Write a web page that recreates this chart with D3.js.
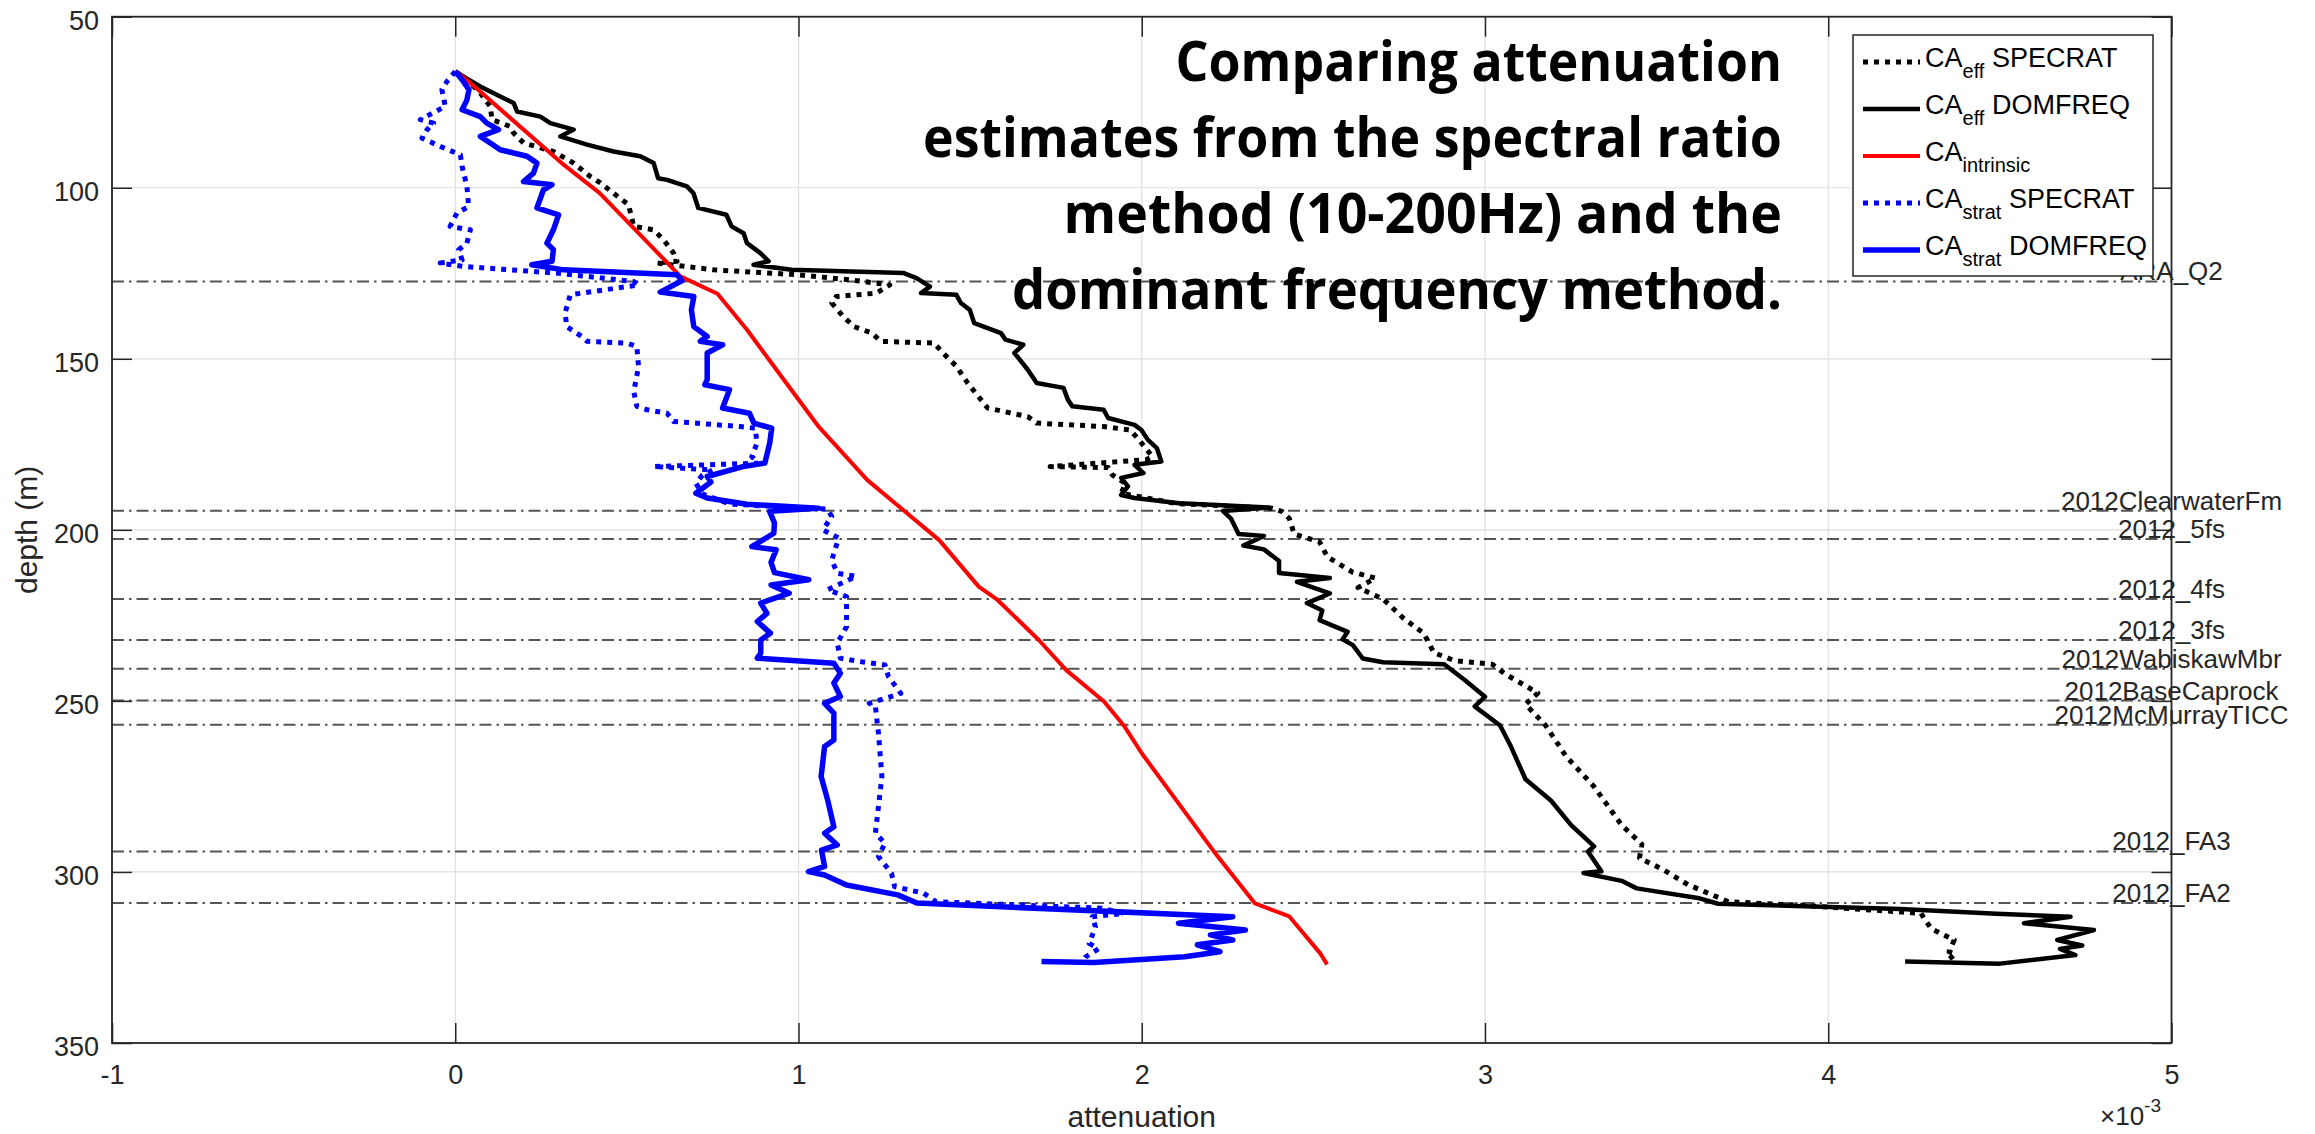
<!DOCTYPE html>
<html>
<head>
<meta charset="utf-8">
<script src="https://cdn.jsdelivr.net/npm/d3@7"></script>
<style>
  html, body { margin: 0; padding: 0; background: #fff; }
  svg { display: block; }
</style>
</head>
<body>
<div id="chart"></div>
<script>
// attenuation is stored in units of 1e-3 (the axis shows x10^-3)
const xTicks = [-1, 0, 1, 2, 3, 4, 5];
const yTicks = [50, 100, 150, 200, 250, 300, 350];

// [attenuation, depth (m)]
const caEffSpecrat = [
  [0.0,66],[0.044,69.4],[0.073,72.3],[0.102,76.2],[0.107,80.1],[0.16,82.1],[0.17,84],[0.199,86.9],
  [0.286,89.4],[0.345,92.8],[0.393,96.7],[0.423,98.6],[0.461,101.6],[0.505,105],[0.52,111.3],
  [0.578,112.3],[0.607,115.2],[0.636,119.1],[0.646,121.5],[0.588,122],[0.753,124],[0.993,125.4],
  [1.149,126.9],[1.266,128.4],[1.227,130.8],[1.11,131.8],[1.097,133.7],[1.13,137.6],[1.162,140.6],
  [1.214,142.5],[1.24,144.9],[1.395,145.4],[1.421,148.3],[1.46,152.2],[1.493,157.1],[1.551,164.4],
  [1.668,166.9],[1.694,168.8],[1.889,169.8],[1.966,170.8],[1.992,173.7],[2.031,178.6],[2.012,179.5],
  [1.733,181.5],[1.902,181.8],[1.914,183.9],[1.953,186.4],[1.94,189.3],[2.1,192.3],[2.381,193.7],
  [2.408,194.6],[2.43,196.7],[2.444,201.2],[2.518,203.5],[2.541,207.9],[2.615,212.4],[2.681,214.1],
  [2.63,216.9],[2.703,220.2],[2.762,225.8],[2.822,230.3],[2.851,235.9],[2.91,238.2],[3.021,239.3],
  [3.058,242.1],[3.154,247.7],[3.118,251],[3.177,257.2],[3.236,266.2],[3.318,275.1],[3.398,286.3],
  [3.457,291.9],[3.45,295.9],[3.517,299.2],[3.591,303.7],[3.709,308.7],[3.946,309.9],[4.27,312.1],
  [4.3,316.6],[4.367,319.9],[4.352,323.3],[4.37,324],[4.345,326.1]
];

const caEffDomfreq = [
  [0.0,66],[0.039,68.4],[0.073,70.4],[0.131,73.3],[0.17,75.2],[0.18,77.7],[0.248,79.2],[0.277,81.1],
  [0.345,83],[0.306,85],[0.384,87.4],[0.461,89.4],[0.539,90.8],[0.578,92.8],[0.591,97.2],[0.617,97.7],
  [0.675,99.6],[0.694,101.6],[0.708,105.9],[0.79,107.9],[0.805,111.3],[0.84,113.3],[0.85,116.2],
  [0.889,119.1],[0.913,121.5],[0.869,122.5],[0.98,124],[1.305,124.9],[1.344,126.4],[1.383,128.9],
  [1.357,130.8],[1.46,131.3],[1.473,133.7],[1.499,135.7],[1.512,139.6],[1.59,142.5],[1.603,144.4],
  [1.655,145.9],[1.629,148.3],[1.668,153.2],[1.694,157.1],[1.772,158.5],[1.785,162],[1.798,163.9],
  [1.889,164.9],[1.902,167.3],[1.979,169.3],[1.999,170.8],[2.018,173.7],[2.044,176.1],[2.057,180],
  [1.979,181],[2.005,183.4],[1.94,184.8],[1.96,187.3],[1.94,189.8],[1.979,190.7],[2.109,192.2],
  [2.37,193.5],[2.237,194.5],[2.26,196.7],[2.282,201.2],[2.356,201.8],[2.296,204.6],[2.356,205.7],
  [2.4,209.1],[2.4,212.6],[2.548,214.1],[2.452,215.2],[2.548,218.6],[2.481,221.4],[2.526,223.6],
  [2.518,226.4],[2.6,229.8],[2.585,232],[2.615,233.7],[2.644,237.6],[2.703,238.7],[2.881,239.3],
  [2.94,243.8],[3.0,248.8],[2.97,251.6],[3.044,257.2],[3.073,262.8],[3.118,272.9],[3.192,279.1],
  [3.251,286.3],[3.318,292.5],[3.3,294],[3.339,299.8],[3.287,300.3],[3.398,302.6],[3.442,304.8],
  [3.62,307.6],[3.679,309.3],[4.21,310.8],[4.49,312.2],[4.706,313.1],[4.57,315],[4.774,317],
  [4.667,319.9],[4.74,321.5],[4.675,322.5],[4.72,324.3],[4.5,326.8],[4.224,326.2]
];

const caIntrinsic = [
  [0.0,66],[0.04,69],[0.31,92.8],[0.42,101.5],[0.515,111.3],[0.656,125.9],[0.764,131],[0.85,141.5],
  [0.96,156.5],[1.06,170],[1.2,185.4],[1.305,194.2],[1.41,203],[1.525,216.6],[1.58,220.5],
  [1.70,232.2],[1.78,241],[1.89,250.2],[1.95,257.5],[2.0,265.3],[2.21,294],[2.33,309.2],
  [2.43,313],[2.52,323.8],[2.54,327]
];

const caStratSpecrat = [
  [0.0,66],[-0.024,68.9],[-0.039,71.3],[-0.029,76.2],[-0.102,80.1],[-0.063,81.1],[-0.082,83],
  [-0.097,85.5],[-0.044,87.9],[0.015,90.4],[0.02,93.8],[0.034,99.6],[0.039,105.5],[0.005,107.4],
  [-0.015,111.3],[0.044,112.3],[0.034,116.2],[0.01,118.1],[0.02,121.1],[-0.044,122],[0.024,123],
  [0.3,125],[0.52,127.4],[0.534,128.4],[0.335,131.3],[0.32,136.6],[0.325,140.6],[0.369,143.5],
  [0.384,144.9],[0.5,145.4],[0.529,146.4],[0.534,152.3],[0.52,159.6],[0.529,163.9],[0.559,164.9],
  [0.617,165.9],[0.636,168.3],[0.83,169.8],[0.874,170.3],[0.879,174.7],[0.864,178.6],[0.884,180.5],
  [0.578,181.5],[0.75,182.5],[0.72,184],[0.701,186.4],[0.72,189.5],[0.8,192.5],[1.084,193.9],
  [1.097,196.1],[1.071,200],[1.117,202.4],[1.097,208.8],[1.113,212.7],[1.168,213.6],[1.085,217.5],
  [1.14,219.5],[1.14,228.3],[1.113,233.1],[1.122,237.5],[1.178,238.5],[1.252,239.5],[1.262,242.9],
  [1.298,247.8],[1.206,250.7],[1.224,251.7],[1.233,259.5],[1.243,272.1],[1.224,288.7],[1.252,291.6],
  [1.233,295.5],[1.271,300.4],[1.28,304.3],[1.364,306.2],[1.401,308.7],[1.884,310.6],[1.949,312.1],
  [1.856,313.1],[1.865,316],[1.847,320.9],[1.874,322.5],[1.837,324.8],[1.83,325.8]
];

const caStratDomfreq = [
  [0.0,66],[0.02,68.4],[0.04,71.3],[0.034,74.3],[0.02,77.2],[0.073,79.2],[0.092,81.1],[0.126,83],
  [0.073,85],[0.102,86.9],[0.131,88.9],[0.209,90.8],[0.238,92.8],[0.228,95.7],[0.199,98.2],
  [0.282,99.1],[0.257,100.6],[0.238,105.9],[0.301,107.9],[0.286,112.3],[0.267,116.2],[0.286,118.1],
  [0.282,121.5],[0.223,122.5],[0.316,124],[0.646,125.4],[0.66,127.2],[0.597,130.5],[0.695,131.8],
  [0.688,135.7],[0.695,140.6],[0.734,143.5],[0.714,144.9],[0.779,145.9],[0.734,148.3],[0.734,156.1],
  [0.727,157.6],[0.799,159],[0.779,164.4],[0.857,165.9],[0.87,168.8],[0.922,170.3],[0.916,174.7],
  [0.902,180.5],[0.838,181.5],[0.734,184.4],[0.745,186],[0.701,189.3],[0.734,190.7],[0.85,192.5],
  [1.058,193.7],[0.916,194.6],[0.93,198],[0.928,201],[0.864,204.9],[0.935,205.8],[0.92,209.5],
  [0.93,212.5],[1.03,214.6],[0.92,216.1],[0.973,218.5],[0.89,221.4],[0.908,224.4],[0.88,226.8],
  [0.918,230.2],[0.89,232.2],[0.89,236],[0.88,237.5],[1.103,239],[1.122,241.9],[1.103,244.8],
  [1.122,248.7],[1.076,250.7],[1.103,253.6],[1.103,261.4],[1.076,263.3],[1.066,272.1],[1.085,279],
  [1.103,286.8],[1.076,288.7],[1.113,292.1],[1.067,293.6],[1.076,298.4],[1.029,299.9],[1.076,300.9],
  [1.14,303.8],[1.289,306.7],[1.345,309.1],[2.265,313.1],[2.107,315],[2.302,317],[2.2,318.4],
  [2.265,319.9],[2.162,321.3],[2.228,323.3],[2.125,324.8],[1.86,326.5],[1.708,326.2]
];

const horizonDepths = [127.4, 194.4, 202.7, 220.2, 232.2, 240.6, 249.9, 257.0, 294.0, 309.1];
const horizonNames = ["ARA_Q2", "2012ClearwaterFm", "2012_5fs", "2012_4fs", "2012_3fs",
  "2012WabiskawMbr", "2012BaseCaprock", "2012McMurrayTICC", "2012_FA3", "2012_FA2"];

const legendSubs = ["eff", "eff", "intrinsic", "strat", "strat"];
const legendMethods = ["SPECRAT", "DOMFREQ", "", "SPECRAT", "DOMFREQ"];

const titleLines = [
  "Comparing attenuation",
  "estimates from the spectral ratio",
  "method (10-200Hz) and the",
  "dominant frequency method."
];

// ---- layout ----
const W = 2315, H = 1134;
const plotL = 112, plotR = 2171.5, plotT = 16.7, plotB = 1043;
const axisColor = "#262626";
const font = "'Liberation Sans', Arial, Helvetica, sans-serif";

const series = [
  { data: caEffSpecrat, color: "#000000", width: 5, dash: "5,6" },
  { data: caEffDomfreq, color: "#000000", width: 4.5, dash: null },
  { data: caIntrinsic, color: "#ff0000", width: 4, dash: null },
  { data: caStratSpecrat, color: "#0000ff", width: 5, dash: "5,6" },
  { data: caStratDomfreq, color: "#0000ff", width: 5.5, dash: null }
];

const svg = d3.select("#chart").append("svg")
  .attr("width", W)
  .attr("height", H)
  .style("background", "#fff");

const x = d3.scaleLinear().domain([-1, 5]).range([plotL, plotR]);
const y = d3.scaleLinear().domain([50, 350]).range([plotT, plotB]);

// grid
const grid = svg.append("g");
grid.selectAll("line.gx").data(xTicks).enter().append("line")
  .attr("x1", d => x(d)).attr("x2", d => x(d))
  .attr("y1", plotT).attr("y2", plotB)
  .attr("stroke", "#dfdfdf").attr("stroke-width", 1.2);
grid.selectAll("line.gy").data(yTicks).enter().append("line")
  .attr("x1", plotL).attr("x2", plotR)
  .attr("y1", d => y(d)).attr("y2", d => y(d))
  .attr("stroke", "#dfdfdf").attr("stroke-width", 1.2);

// horizons
svg.append("g").selectAll("line").data(horizonDepths).enter().append("line")
  .attr("x1", plotL).attr("x2", plotR)
  .attr("y1", d => y(d)).attr("y2", d => y(d))
  .attr("stroke", "#555555")
  .attr("stroke-width", 2)
  .attr("stroke-dasharray", "12,5,2.5,5");

// curves
svg.append("clipPath").attr("id", "plotclip").append("rect")
  .attr("x", plotL).attr("y", plotT).attr("width", plotR - plotL).attr("height", plotB - plotT);

const line = d3.line().x(d => x(d[0])).y(d => y(d[1]));

svg.append("g").attr("clip-path", "url(#plotclip)")
  .selectAll("path").data(series).enter().append("path")
  .attr("d", d => line(d.data))
  .attr("fill", "none")
  .attr("stroke", d => d.color)
  .attr("stroke-width", d => d.width)
  .attr("stroke-dasharray", d => d.dash)
  .attr("stroke-linejoin", "round");

// axes
const xBottom = svg.append("g").attr("transform", `translate(0,${plotB})`)
  .call(d3.axisBottom(x).tickValues(xTicks).tickSize(-20).tickPadding(22).tickFormat(d => String(d)));
const yLeft = svg.append("g").attr("transform", `translate(${plotL},0)`)
  .call(d3.axisLeft(y).tickValues(yTicks).tickSize(-20).tickPadding(13).tickFormat(d => String(d)));
const xTop = svg.append("g").attr("transform", `translate(0,${plotT})`)
  .call(d3.axisTop(x).tickValues(xTicks).tickSize(-20).tickFormat(""));
const yRight = svg.append("g").attr("transform", `translate(${plotR},0)`)
  .call(d3.axisRight(y).tickValues(yTicks).tickSize(-20).tickFormat(""));

[xBottom, yLeft, xTop, yRight].forEach(g => {
  g.select(".domain").remove();
  g.selectAll(".tick line").attr("stroke", axisColor).attr("stroke-width", 1.5);
  g.selectAll(".tick text")
    .attr("fill", axisColor)
    .style("font-family", font)
    .style("font-size", "27px");
});
yLeft.selectAll(".tick text").attr("dy", "0.47em");

svg.append("rect")
  .attr("x", plotL).attr("y", plotT)
  .attr("width", plotR - plotL).attr("height", plotB - plotT)
  .attr("fill", "none").attr("stroke", axisColor).attr("stroke-width", 1.8);

// axis labels
svg.append("text")
  .attr("x", (plotL + plotR) / 2).attr("y", 1127)
  .attr("text-anchor", "middle")
  .style("font-family", font).style("font-size", "30px").attr("fill", axisColor)
  .text("attenuation");

svg.append("text")
  .attr("transform", `translate(37,${(plotT + plotB) / 2}) rotate(-90)`)
  .attr("text-anchor", "middle")
  .style("font-family", font).style("font-size", "30px").attr("fill", axisColor)
  .text("depth (m)");

const expo = svg.append("text")
  .attr("x", 2100).attr("y", 1125)
  .style("font-family", font).style("font-size", "26px").attr("fill", axisColor);
expo.append("tspan").text("\u00d710");
expo.append("tspan").attr("dy", -13).style("font-size", "19px").text("-3");

// horizon labels, centred on the right axis
svg.append("g").selectAll("text").data(horizonDepths).enter().append("text")
  .attr("x", plotR)
  .attr("y", d => y(d) - 1)
  .attr("text-anchor", "middle")
  .style("font-family", font).style("font-size", "26px").attr("fill", "#262626")
  .text((d, i) => horizonNames[i]);

// title overlay
const titleLeft = [1175.5, 923, 1063.6, 1012];
const titleBase = [81, 157, 233, 309];
svg.append("g").selectAll("text").data(titleLines).enter().append("text")
  .attr("x", (d, i) => titleLeft[i])
  .attr("y", (d, i) => titleBase[i])
  .attr("textLength", (d, i) => 1782 - titleLeft[i])
  .attr("lengthAdjust", "spacingAndGlyphs")
  .style("font-family", "'Open Sans', 'Noto Sans', sans-serif")
  .style("font-weight", 700)
  .style("font-size", "55px")
  .attr("fill", "#000")
  .text(d => d);

// legend
const leg = svg.append("g");
leg.append("rect")
  .attr("x", 1853).attr("y", 35).attr("width", 300).attr("height", 241)
  .attr("fill", "#fff").attr("stroke", axisColor).attr("stroke-width", 1.5);

const rowY = i => 62 + i * 47;
const rows = leg.selectAll("g.row").data(series).enter().append("g");
rows.append("line")
  .attr("x1", 1863).attr("x2", 1920)
  .attr("y1", (d, i) => rowY(i)).attr("y2", (d, i) => rowY(i))
  .attr("stroke", d => d.color)
  .attr("stroke-width", d => d.width)
  .attr("stroke-dasharray", d => d.dash);

rows.each(function (d, i) {
  const t = d3.select(this).append("text")
    .attr("x", 1925).attr("y", rowY(i) + 5)
    .style("font-family", font).style("font-size", "27px").attr("fill", "#000");
  t.append("tspan").text("CA");
  t.append("tspan").attr("dy", 11).style("font-size", "20px").text(legendSubs[i]);
  if (legendMethods[i]) {
    t.append("tspan").attr("dy", -11).text("\u00a0" + legendMethods[i]);
  }
});
</script>
</body>
</html>
